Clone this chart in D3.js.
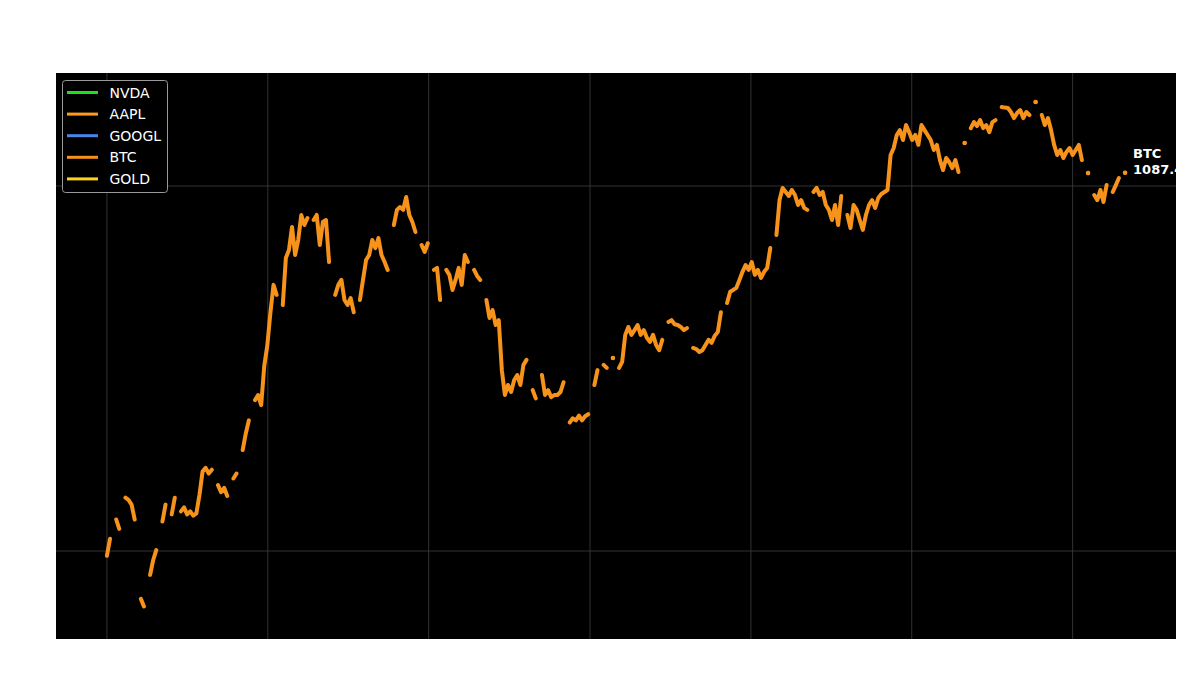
<!DOCTYPE html>
<html><head><meta charset="utf-8">
<script src="https://cdn.jsdelivr.net/npm/d3@7"></script>
<style>body{margin:0;background:#fff;} svg{display:block;}</style>
</head><body>
<svg id="chart" width="1200" height="687"></svg>
<script>
// ---- data ----
const seriesNames = ["NVDA", "AAPL", "GOOGL", "BTC", "GOLD"];
const seriesColors = ["#1fe01f", "#ff9a1f", "#4a86e8", "#f7931a", "#ffd21a"];
const startDate = "2018-01-01";
const stepDays = 7;
const btcValues = [
 97,108,null,122,115,null,140,138,134,122,
 null,74,70.5,null,86,94.5,100.6,null,120.5,134,
 null,126,140,null,128.4,131.7,126,128.4,125,126.8,
 142.5,165,169,163,167,null,151.5,145,149,141.5,
 null,158,163,null,189,209.6,228,null,259,267.5,
 251,321.5,366.5,451,536,503,null,472,635,668,
 772.5,647,711,833,782,817,null,807,833,689,
 797,807,619,null,503,536,553,487,472,493,
 451,null,487,553,627,647,711,676,720,647,
 619,589,null,782,860,876,860,933,833,797,
 748,null,689,660,697,null,589,596.5,487,null,
 589,571,519,553,596.5,536,647,619,null,589,
 567,553,null,487,435,457,416,429,313,267.5,
 285,272.6,294,303.5,285,323.5,334,null,276,262,
 null,303.5,267.5,276,264,267.5,267.5,272.6,290,null,
 225,231,228,235,228,234,237,null,285,313,
 null,323.5,317.5,null,338,null,317.5,330,391,411,
 391,403,416,391,403,384,374,391,367,355,
 379,null,424,429,418,416,411,403,408,null,
 360,357.5,351,355,367,379,372,389,398,451,
 null,478,513,519,526,553,582,607,589,619,
 571,589,560,582,596.5,676,null,734,915,988,
 963,939,975,945,887,915,871,860,null,963,
 988,945,963,887,860,807,887,782,939,null,
 833,767,887,860,807,758,833,887,915,871,
 927,951,963,975,1216,1271,1380,1423,1337,1469,
 1405,1337,1380,1296,1469,1423,1380,1337,1255,1296,
 1178,1106,1193,1163,1120,1178,1092,null,1312,null,
 1441,1497,1460,1516,1441,1469,1405,1497,1516,null,
 1646,1640,1636,1595,1535,1585,1615,1535,1595,1565,
 null,1699,null,1565,1469,1535,1423,1296,1216,1255,
 1193,1240,1271,1216,1255,1296,1178,null,1085,null,
 945,915,975,904,1006,null,963,1006,1052,null,
 1087.4
];
const yTicks = [100, 1000];
const yDomain = [57.4, 2040];
const annotationName = "BTC";
const annotationValue = "1087.4";

// ---- layout ----
const plot = {left: 56, top: 73, width: 1120, height: 566};
const svg = d3.select("#chart");

const parse = d3.timeParse("%Y-%m-%d");
const t0 = parse(startDate);
const data = btcValues.map((v, i) => ({date: d3.timeDay.offset(t0, i * stepDays), v}));
const ext = d3.extent(data, d => d.date);
const span = ext[1] - ext[0];
const x = d3.scaleTime()
  .domain([new Date(+ext[0] - 0.05 * span), new Date(+ext[1] + 0.05 * span)])
  .range([plot.left, plot.left + plot.width]);
const y = d3.scaleLog().domain(yDomain).range([plot.top + plot.height, plot.top]);

svg.append("defs").append("clipPath").attr("id", "clip")
  .append("rect").attr("x", plot.left).attr("y", plot.top)
  .attr("width", plot.width).attr("height", plot.height);

svg.append("rect").attr("x", plot.left).attr("y", plot.top)
  .attr("width", plot.width).attr("height", plot.height).attr("fill", "#000");

// grid
const grid = svg.append("g").attr("clip-path", "url(#clip)");
grid.selectAll("line.gx").data(x.ticks(d3.timeYear.every(1))).join("line")
  .attr("x1", d => x(d)).attr("x2", d => x(d))
  .attr("y1", plot.top).attr("y2", plot.top + plot.height)
  .attr("stroke", "#404040").attr("stroke-width", 0.8);
grid.selectAll("line.gy").data(yTicks).join("line")
  .attr("x1", plot.left).attr("x2", plot.left + plot.width)
  .attr("y1", d => y(d)).attr("y2", d => y(d))
  .attr("stroke", "#404040").attr("stroke-width", 0.8);

// series line
const g = svg.append("g").attr("clip-path", "url(#clip)");
const line = d3.line().defined(d => d.v != null).x(d => x(d.date)).y(d => y(d.v));
const btcColor = seriesColors[seriesNames.indexOf("BTC")];
g.append("path").datum(data).attr("d", line)
  .attr("fill", "none").attr("stroke", btcColor).attr("stroke-width", 4)
  .attr("stroke-linecap", "round").attr("stroke-linejoin", "round");
const isolated = data.filter((d, i) => d.v != null &&
  (i === 0 || data[i - 1].v == null) && (i === data.length - 1 || data[i + 1].v == null));
g.selectAll("circle.iso").data(isolated).join("circle")
  .attr("cx", d => x(d.date)).attr("cy", d => y(d.v)).attr("r", 2.3).attr("fill", btcColor);

// annotation
const last = data[data.length - 1];
const ann = g.append("text").attr("x", x(last.date) + 8).attr("y", y(last.v) - 14.5)
  .attr("fill", "#fff").attr("font-family", "DejaVu Sans, sans-serif")
  .attr("font-size", 13).attr("font-weight", "bold");
ann.append("tspan").text(annotationName);
ann.append("tspan").attr("x", x(last.date) + 8).attr("dy", 15.5).text(annotationValue);

// legend
const lg = svg.append("g");
lg.append("rect").attr("x", 62.5).attr("y", 80.5).attr("width", 105).attr("height", 112)
  .attr("rx", 3).attr("fill", "#000").attr("stroke", "#9a9a9a").attr("stroke-width", 1);
seriesNames.forEach((name, i) => {
  const cy = 92.5 + i * 21.6;
  lg.append("line").attr("x1", 67).attr("x2", 98).attr("y1", cy).attr("y2", cy)
    .attr("stroke", seriesColors[i]).attr("stroke-width", 3);
  lg.append("text").attr("x", 109.5).attr("y", cy + 5)
    .attr("fill", "#fff").attr("font-family", "DejaVu Sans, sans-serif")
    .attr("font-size", 14).text(name);
});
</script>
</body></html>
